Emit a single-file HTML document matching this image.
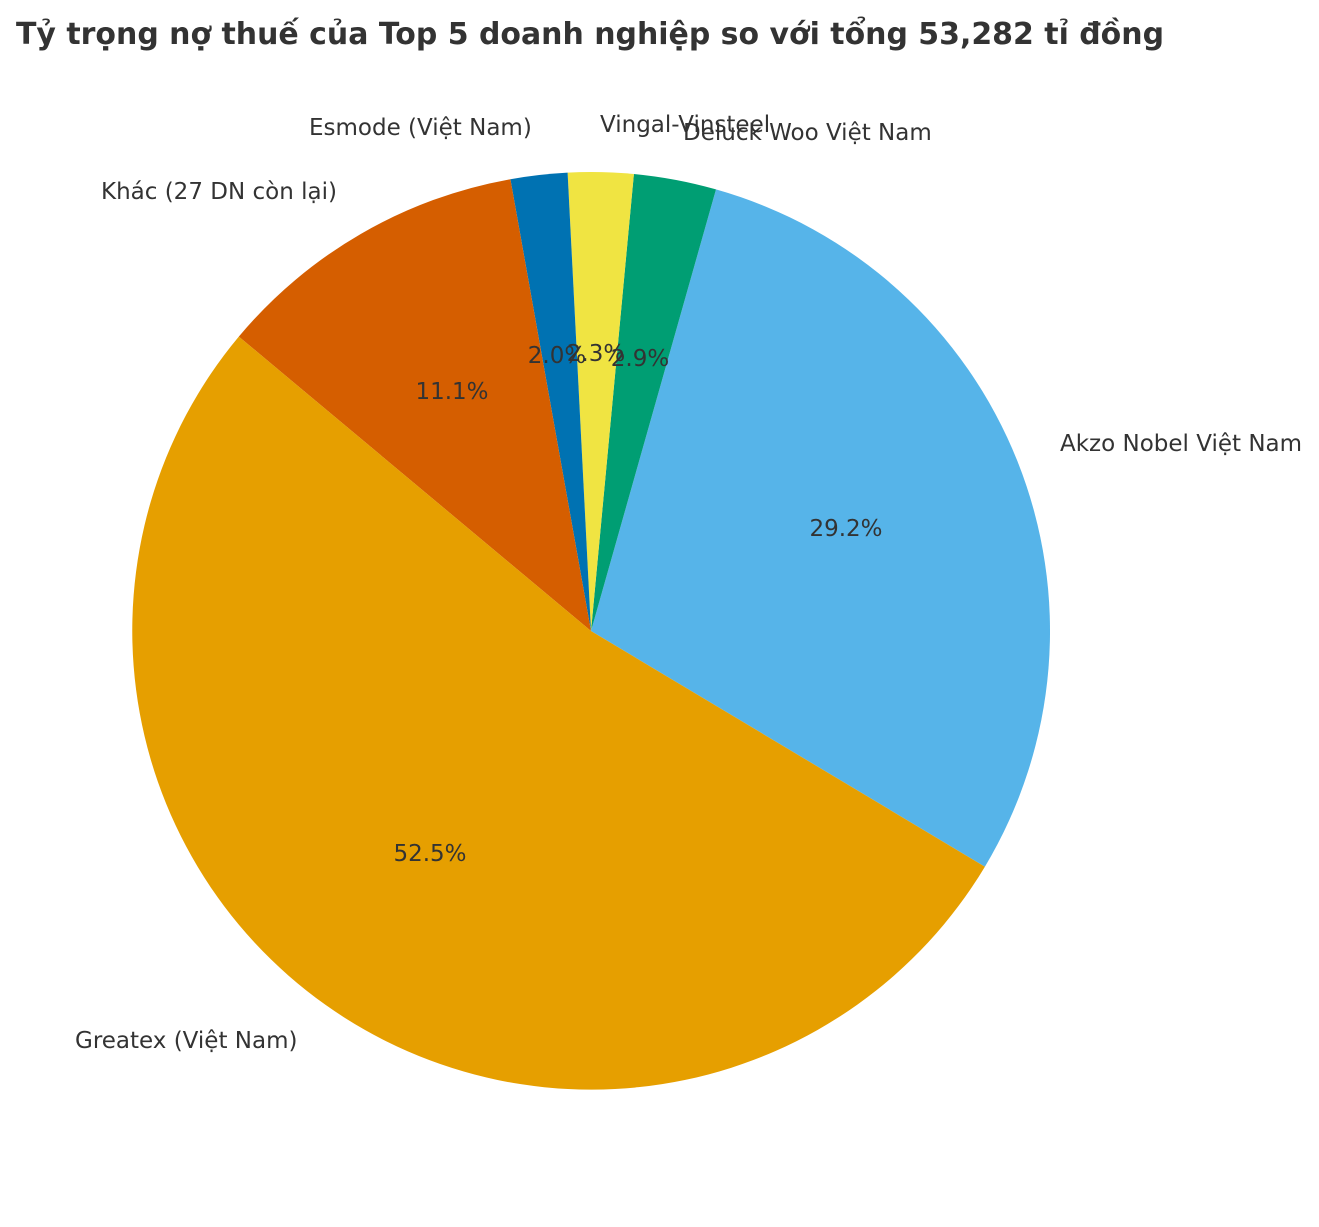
<!DOCTYPE html>
<html><head><meta charset="utf-8"><style>
html,body{margin:0;padding:0;background:#fff;}
svg text{font-family:"DejaVu Sans","Liberation Sans","Noto Sans CJK SC",sans-serif;fill:#333;}
</style></head><body>
<svg width="1319" height="1222" viewBox="0 0 1319 1222" xmlns="http://www.w3.org/2000/svg">
<rect width="1319" height="1222" fill="#fff"/>
<text x="16" y="44" font-size="30" font-weight="bold" textLength="1148" lengthAdjust="spacingAndGlyphs">Tỷ trọng nợ thuế của Top 5 doanh nghiệp so với tổng 53,282 tỉ đồng</text>
<g stroke="none">
<path d="M591,631 L984.9,866.7 A459,459 0 0 0 716.0,189.4 Z" fill="#56B4E9"/>
<path d="M591,631 L716.0,189.4 A459,459 0 0 0 633.9,174.0 Z" fill="#009E73"/>
<path d="M591,631 L633.9,174.0 A459,459 0 0 0 567.6,172.6 Z" fill="#F0E442"/>
<path d="M591,631 L567.6,172.6 A459,459 0 0 0 510.4,179.2 Z" fill="#0072B2"/>
<path d="M591,631 L510.4,179.2 A459,459 0 0 0 238.8,336.6 Z" fill="#D55E00"/>
<path d="M591,631 L238.8,336.6 A459,459 0 1 0 984.9,866.7 Z" fill="#E69F00"/>
</g>
<g font-size="23" dominant-baseline="central">
<text x="1060" y="444">Akzo Nobel Việt Nam</text>
<text x="683" y="133">Deluck Woo Việt Nam</text>
<text x="600" y="125">Vingal-Vinsteel</text>
<text x="309" y="128">Esmode (Việt Nam)</text>
<text x="101" y="192">Khác (27 DN còn lại)</text>
<text x="75" y="1041">Greatex (Việt Nam)</text>
</g>
<g font-size="23" dominant-baseline="central" text-anchor="middle">
<text x="846" y="529">29.2%</text>
<text x="640" y="359">2.9%</text>
<text x="596" y="354">2.3%</text>
<text x="557" y="356">2.0%</text>
<text x="452" y="392">11.1%</text>
<text x="430" y="854">52.5%</text>
</g>
</svg>
</body></html>
